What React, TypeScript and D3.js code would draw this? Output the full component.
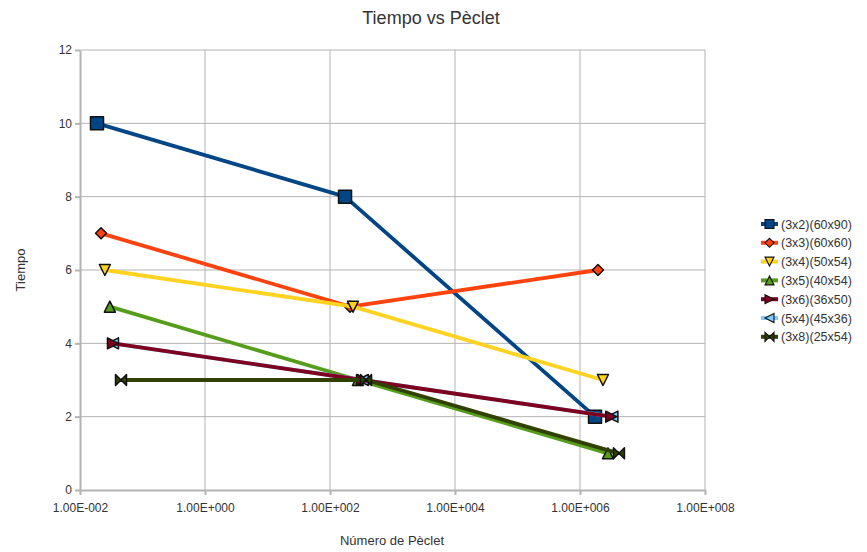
import { useEffect, useRef } from 'react'
import * as d3 from 'd3'

const seriesNames = ['(3x2)(60x90)', '(3x3)(60x60)', '(3x4)(50x54)', '(3x5)(40x54)', '(3x6)(36x50)', '(5x4)(45x36)', '(3x8)(25x54)']
const seriesColors = ['#004586', '#ff420e', '#ffd320', '#579d1c', '#7e0021', '#83caff', '#314004']
const seriesSymbols = ['square', 'diamond', 'down', 'up', 'right', 'left', 'bowtie']

const pecletX = [
  [0.0187, 174, 1.74e6],
  [0.0217, 209, 1.94e6],
  [0.025, 233, 2.33e6],
  [0.03, 280, 2.8e6],
  [0.0337, 325, 3.16e6],
  [0.0337, 335, 3.3e6],
  [0.0453, 377, 4.2e6],
]
const tiempoY = [
  [10, 8, 2],
  [7, 5, 6],
  [6, 5, 3],
  [5, 3, 1],
  [4, 3, 2],
  [4, 3, 2],
  [3, 3, 1],
]

const xTicks = [1e-2, 1e0, 1e2, 1e4, 1e6, 1e8]
const yTicks = [0, 2, 4, 6, 8, 10, 12]
const xTickLabels = ['1.00E-002', '1.00E+000', '1.00E+002', '1.00E+004', '1.00E+006', '1.00E+008']

function symbolPath(kind: string, s: number) {
  const h = s / 2
  switch (kind) {
    case 'square': return `M${-h},${-h}H${h}V${h}H${-h}Z`
    case 'diamond': return `M0,${-h}L${h},0L0,${h}L${-h},0Z`
    case 'down': return `M${-h},${-h}H${h}L0,${h}Z`
    case 'up': return `M${-h},${h}H${h}L0,${-h}Z`
    case 'right': return `M${-h},${-h}L${h},0L${-h},${h}Z`
    case 'left': return `M${h},${-h}L${-h},0L${h},${h}Z`
    default: return `M${-h},${-h}L0,0L${-h},${h}ZM${h},${-h}L0,0L${h},${h}Z`
  }
}

export default function App() {
  const svgRef = useRef<SVGSVGElement>(null)

  useEffect(() => {
    if (!svgRef.current) return
    const svg = d3.select(svgRef.current)
    svg.selectAll('*').remove()

    const left = 80, right = 705, top = 50, bottom = 490
    const x = d3.scaleLog().domain([1e-2, 1e8]).range([left, right])
    const y = d3.scaleLinear().domain([0, 12]).range([bottom, top])
    const font = 'Liberation Sans, Arial, sans-serif'

    svg.append('rect').attr('width', 867).attr('height', 552).attr('fill', '#ffffff')

    // grid
    svg.append('g').selectAll('line.h').data(yTicks.slice(1)).enter().append('line')
      .attr('x1', left).attr('x2', right)
      .attr('y1', d => y(d)).attr('y2', d => y(d))
      .attr('stroke', '#b3b3b3').attr('stroke-width', 1)
    svg.append('g').selectAll('line.v').data(xTicks.slice(1)).enter().append('line')
      .attr('x1', d => x(d)).attr('x2', d => x(d))
      .attr('y1', top).attr('y2', bottom)
      .attr('stroke', '#b3b3b3').attr('stroke-width', 1)

    // axes
    const xAxis = svg.append('g').attr('transform', `translate(0,${bottom})`)
      .call(d3.axisBottom(x).tickValues(xTicks).tickSize(5).tickSizeOuter(0).tickFormat((_, i) => xTickLabels[i]))
    const yAxis = svg.append('g').attr('transform', `translate(${left},0)`)
      .call(d3.axisLeft(y).tickValues(yTicks).tickSize(5).tickSizeOuter(0))
    for (const ax of [xAxis, yAxis]) {
      ax.select('.domain').attr('stroke', '#b3b3b3').attr('stroke-width', 2)
      ax.selectAll('.tick line').attr('stroke', '#b3b3b3').attr('stroke-width', 2)
      ax.selectAll('.tick text').attr('fill', '#333333').style('font-family', font).style('font-size', '12px')
    }
    xAxis.selectAll('.tick text').attr('dy', '1.2em')

    // series (draw (5x4) before (3x6) so it sits under it)
    const order = [0, 1, 2, 3, 5, 4, 6]
    const line = d3.line<[number, number]>().x(d => x(d[0])).y(d => y(d[1]))
    order.forEach(i => {
      const pts: [number, number][] = pecletX[i].map((v, j) => [v, tiempoY[i][j]])
      svg.append('path').datum(pts).attr('d', line)
        .attr('fill', 'none').attr('stroke', seriesColors[i]).attr('stroke-width', 3.8)
        .attr('stroke-linejoin', 'round')
      svg.append('g').selectAll('path').data(pts).enter().append('path')
        .attr('transform', d => `translate(${x(d[0])},${y(d[1])})`)
        .attr('d', symbolPath(seriesSymbols[i], i === 0 ? 13 : 11))
        .attr('fill', seriesColors[i]).attr('stroke', '#111111').attr('stroke-width', 1.5)
        .attr('stroke-linejoin', 'round')
    })

    // title and axis titles
    svg.append('text').attr('x', 431).attr('y', 24).attr('text-anchor', 'middle')
      .style('font-family', font).style('font-size', '18px').attr('fill', '#333333').text('Tiempo vs Pèclet')
    svg.append('text').attr('x', 392).attr('y', 545).attr('text-anchor', 'middle')
      .style('font-family', font).style('font-size', '13px').attr('fill', '#333333').text('Número de Pèclet')
    svg.append('text').attr('transform', 'translate(25,270) rotate(-90)').attr('text-anchor', 'middle')
      .style('font-family', font).style('font-size', '13px').attr('fill', '#333333').text('Tiempo')

    // legend
    const lg = svg.append('g')
    seriesNames.forEach((name, i) => {
      const ly = 224 + i * 18.8
      lg.append('line').attr('x1', 761).attr('x2', 778).attr('y1', ly).attr('y2', ly)
        .attr('stroke', seriesColors[i]).attr('stroke-width', 4)
      lg.append('path').attr('transform', `translate(769.5,${ly})`)
        .attr('d', symbolPath(seriesSymbols[i], 9))
        .attr('fill', seriesColors[i]).attr('stroke', '#111111').attr('stroke-width', 1.1)
      lg.append('text').attr('x', 781).attr('y', ly + 4.5)
        .style('font-family', font).style('font-size', '12.5px').attr('fill', '#333333').text(name)
    })
  }, [])

  return <svg ref={svgRef} width={867} height={552} style={{ display: 'block', position: 'absolute', left: 0, top: 0 }}></svg>
}
